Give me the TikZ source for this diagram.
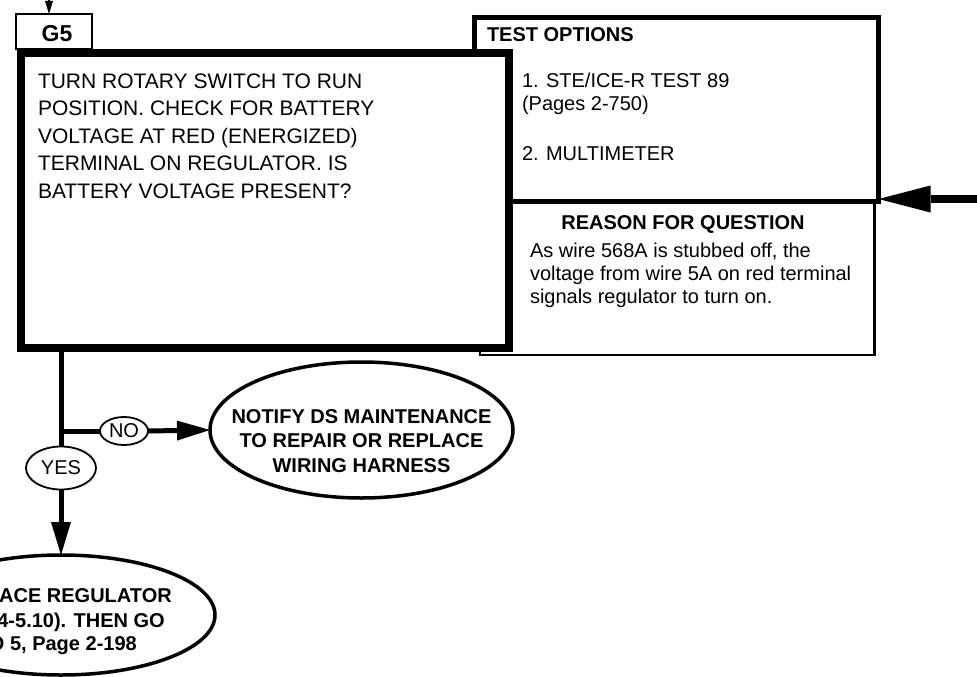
\documentclass[tikz,border=0pt]{standalone}
\usepackage{fontspec}
\setmainfont{Liberation Sans}
\usetikzlibrary{shapes.geometric,arrows.meta}
\begin{document}
\begin{tikzpicture}[x=1pt,y=-1pt,
  box/.style={draw, fill=white, rectangle, inner sep=0pt, outer sep=0pt},
  oval/.style={draw, fill=white, ellipse, inner sep=0pt, outer sep=0pt},
  txt/.style={inner sep=0pt, outer sep=0pt, align=left},
  conn/.style={line width=5pt},
  bigtip/.style={-{Triangle[length=33pt,width=20pt,line width=0pt]}},
  mainfont/.style={font=\fontsize{21}{27.5}\selectfont},
  bodyfont/.style={font=\fontsize{20}{23}\selectfont},
  headfont/.style={font=\bfseries\fontsize{20}{24.5}\selectfont}]
\useasboundingbox (0,0) rectangle (977,677);
\clip (0,0) rectangle (977,677);
% boxes
\node[box, line width=2.5pt, minimum width=394.5pt, minimum height=153.5pt] (reason) at (677.25,278.25) {};
\node[box, line width=4.5pt, minimum width=404pt, minimum height=184pt] (test) at (676.5,109.5) {};
\node[box, line width=8pt, minimum width=488pt, minimum height=294.5pt] (main) at (265,200.25) {};
\node[box, line width=2pt, minimum width=76pt, minimum height=35pt] (g5) at (54,31.5) {};
% texts (multi-line nodes anchored at the baseline of their last line)
\node[anchor=base, inner sep=0pt, font=\bfseries\fontsize{23}{23}\selectfont] (g5txt) at (57,42) {G5};
\node[txt, anchor=base west, mainfont] (maintxt) at (38,198) {TURN ROTARY SWITCH TO RUN\\POSITION. CHECK FOR BATTERY\\VOLTAGE AT RED (ENERGIZED)\\TERMINAL ON REGULATOR. IS\\BATTERY VOLTAGE PRESENT?};
\node[txt, anchor=base west, headfont] (testhead) at (487,42) {TEST OPTIONS};
\node[txt, anchor=base west, bodyfont] (testbody) at (522,160) {1. STE/ICE-R TEST 89\\(Pages 2-750)\\[27pt]2. MULTIMETER};
\node[inner sep=0pt, anchor=base, headfont] (reasonhead) at (683,229) {REASON FOR QUESTION};
\node[txt, anchor=base west, bodyfont] (reasonbody) at (530,303) {As wire 568A is stubbed off, the\\voltage from wire 5A on red terminal\\signals regulator to turn on.};
% ovals
\node[oval, line width=1.8pt, minimum width=48pt, minimum height=28pt, bodyfont] (no) at (124,431) {NO};
\node[oval, line width=1.8pt, minimum width=70pt, minimum height=43pt, bodyfont] (yes) at (61,468) {YES};
\node[oval, line width=3.5pt, minimum width=303pt, minimum height=136pt] (notify) at (361.5,430) {};
\node[inner sep=0pt, align=center, headfont] (notifytxt) at (361.5,441) {NOTIFY DS MAINTENANCE\\TO REPAIR OR REPLACE\\WIRING HARNESS};
\node[oval, line width=3.5pt, minimum width=308pt, minimum height=120pt] (reg) at (61,615) {};
\node[inner sep=0pt, anchor=base east, headfont] (reg1) at (172,602) {ACE REGULATOR};
\node[inner sep=0pt, anchor=base east, headfont] (reg2) at (165,627) {4-5.10). THEN GO};
\node[inner sep=0pt, anchor=base east, headfont] (reg3) at (137,650) {O 5, Page 2-198};
% connectors
\coordinate (topin) at (49,-10);
\draw[line width=1.5pt, -{Triangle[length=13pt,width=8pt,line width=0pt]}] (topin) -- (topin |- g5.north);
\coordinate (rightin) at (990,199);
\draw[line width=8pt, -{Triangle[length=52pt,width=27pt,line width=0pt]}] (rightin) -- (test.east |- rightin);
\draw[conn] (main.south -| yes) -- (yes.north);
\draw[conn] (yes |- no) -- (no.west);
\draw[conn, bigtip] (no.east) -- (notify.west);
\draw[conn, bigtip] (yes.south) -- (reg.north);
\end{tikzpicture}
\end{document}
